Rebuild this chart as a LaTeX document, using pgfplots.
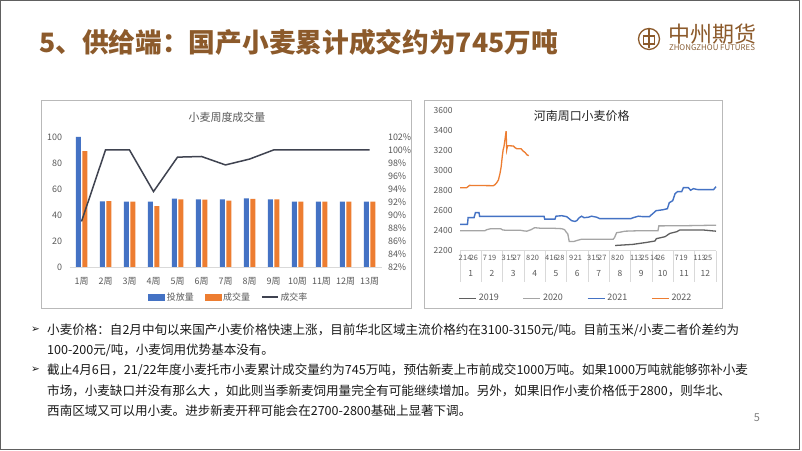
\documentclass[border=0pt]{standalone}
\usepackage{fontspec}
\setmainfont{Noto Sans CJK SC}
\newfontfamily\dejavu{DejaVu Sans}
\usepackage{graphicx}
\usepackage{pgfplots}
\pgfplotsset{compat=1.18}
\pgfplotsset{/pgf/number format/assume math mode=true, /pgf/number format/1000 sep={}}
\definecolor{cblue}{HTML}{4472C4}
\definecolor{corange}{HTML}{ED7D31}
\definecolor{cline}{HTML}{3F4350}
\definecolor{tickgray}{HTML}{595959}
\definecolor{titlebrown}{HTML}{8C5A2B}
\definecolor{g19}{HTML}{5F5F5F}
\definecolor{g20}{HTML}{A5A5A5}
\begin{document}
\begin{tikzpicture}[x=1bp,y=1bp]
\useasboundingbox (0,0) rectangle (802,451);
\fill[white] (0,0) rectangle (802,451);
\draw[gray!75!black, line width=1.2bp] (0.6,1.6) rectangle (799.2,450.4);
% title
\node[anchor=west, inner sep=0, text=titlebrown, font=\fontsize{26.8}{26.8}\selectfont\bfseries] at (39,409) {5、供给端：国产小麦累计成交约为745万吨};
% logo
\draw[titlebrown, line width=1.3bp] (649,412) circle (10.5);
\draw[titlebrown, line width=1.2bp] (649,402.5) -- (649,421.5);
\draw[titlebrown, line width=1.1bp] (643.5,407) rectangle (654.5,415);
\node[inner sep=0, text=titlebrown] at (712,417) {\resizebox{88bp}{!}{中州期货}};
\node[inner sep=0, text=titlebrown!85!gray] at (712,403) {\resizebox{86bp}{!}{ZHONGZHOU FUTURES}};
% chart frames
\draw[gray!55, line width=0.8bp] (41.7,143) rectangle (411,351);
\draw[gray!55, line width=0.8bp] (424,143) rectangle (722.7,351);
% left chart
\node[text=tickgray, font=\fontsize{11}{11}\selectfont] at (227,334) {小麦周度成交量};
\begin{axis}[at={(69.5bp,184bp)}, anchor=south west, scale only axis, width=312bp, height=130bp,
  xmin=0.5, xmax=13.5, ymin=0, ymax=100, ytick={0,20,...,100},
  xtick={1,...,13}, xticklabels={1周,2周,3周,4周,5周,6周,7周,8周,9周,10周,11周,12周,13周},
  ybar=1.5bp, bar width=5bp,
  axis x line*=bottom, axis y line*=left,
  y axis line style={draw=none}, x axis line style={draw=gray!30, line width=0.8bp, -},
  tick style={draw=none},
  ticklabel style={text=tickgray, font=\fontsize{9}{9}\selectfont},
  yticklabel style={xshift=-4bp}, xticklabel style={yshift=-3bp},
  clip=false]
\addplot[fill=cblue, draw=none] coordinates {(1,100) (2,50.5) (3,50.3) (4,50.3) (5,52.6) (6,52) (7,52) (8,52.8) (9,52) (10,50.3) (11,50.3) (12,50.3) (13,50.3)};
\addplot[fill=corange, draw=none] coordinates {(1,89.2) (2,50.6) (3,50.3) (4,46.9) (5,52) (6,51.8) (7,51) (8,52.3) (9,52) (10,50.3) (11,50.3) (12,50.3) (13,50.3)};
\end{axis}
\begin{axis}[at={(69.5bp,184bp)}, anchor=south west, scale only axis, width=312bp, height=130bp,
  xmin=0.5, xmax=13.5, ymin=82, ymax=102, ytick={82,84,...,102},
  yticklabel={\pgfmathprintnumber{\tick}\%},
  axis y line*=right, axis x line=none, y axis line style={draw=none},
  tick style={draw=none},
  ticklabel style={text=tickgray, font=\fontsize{9}{9}\selectfont},
  yticklabel style={xshift=3bp},
  legend style={at={(0.511,-0.231)}, anchor=center, draw=none, fill=none, legend columns=3,
    font=\fontsize{9}{9}\selectfont, text=tickgray,
    /tikz/every even column/.append style={column sep=9bp}},
  legend cell align=left,
  clip=false]
\addlegendimage{legend image code/.code={\fill[cblue] (0bp,-3bp) rectangle (16bp,3bp);}}
\addlegendentry{投放量}
\addlegendimage{legend image code/.code={\fill[corange] (0bp,-3bp) rectangle (16bp,3bp);}}
\addlegendentry{成交量}
\addplot[cline, line width=1.5bp, mark=none, legend image code/.code={\draw[cline, line width=1.5bp] (0bp,0bp) -- (16bp,0bp);}] coordinates {(1,89.0) (2,100) (3,100) (4,93.6) (5,98.9) (6,99.0) (7,97.7) (8,98.6) (9,100) (10,100) (11,100) (12,100) (13,100)};
\addlegendentry{成交率}
\end{axis}
% right chart
\node[text=black!85, font=\fontsize{12}{12}\selectfont] at (581.7,335.3) {河南周口小麦价格};
\begin{axis}[at={(460bp,200.3bp)}, anchor=south west, scale only axis, width=256bp, height=140bp,
  xmin=0, xmax=12, ymin=2200, ymax=3600, ytick={2200,2400,...,3600},
  axis x line*=bottom, axis y line*=left,
  y axis line style={draw=none}, x axis line style={draw=gray!30, line width=0.8bp, -},
  xtick={0.03,0.34,0.65,1.17,1.51,2.05,2.36,2.67,3.19,3.51,4.08,4.39,4.70,5.21,5.53,6.05,6.36,6.67,7.18,7.49,8.07,8.35,8.66,9.1,9.42,10.16,10.48,11.05,11.33,11.63},
  xticklabels={2,14,26,7,19,3,15,27,8,20,4,16,28,9,21,3,15,27,8,20,1,13,25,14,26,7,19,1,13,25},
  extra x ticks={0.5,1.5,...,11.5},
  extra x tick labels={1,2,3,4,5,6,7,8,9,10,11,12},
  extra x tick style={major tick length=0pt, xticklabel style={yshift=-15bp, font=\fontsize{8.5}{8.5}\selectfont}},
  minor xtick={0,1,...,12}, minor tick length=31bp, major tick length=0pt, tick align=outside,
  major tick style={draw=none}, minor tick style={draw=gray!30, line width=0.7bp},
  ytick style={draw=none},
  ticklabel style={text=tickgray, font=\fontsize{8.5}{8.5}\selectfont},
  yticklabel style={xshift=-4bp}, xticklabel style={yshift=-1bp, font=\fontsize{7.4}{7.4}\selectfont},
  legend style={at={(0.453,-0.34)}, anchor=center, draw=none, fill=none, legend columns=4,
    font=\fontsize{9}{9}\selectfont, text=tickgray,
    /tikz/every even column/.append style={column sep=22bp}},
  legend image code/.code={\draw[#1] (0bp,0bp) -- (17bp,0bp);},
  clip=false]
\addplot[g19, line width=1.3bp] coordinates {(7.27,2252) (8.1,2263) (8.75,2283) (9.14,2297) (9.2,2320) (9.61,2340) (9.84,2373) (10.16,2390) (10.3,2407) (11.4,2407) (12,2395)};
\addlegendentry{2019}
\addplot[g20, line width=1.3bp] coordinates {(0,2400) (1.17,2400) (1.25,2410) (1.44,2420) (1.9,2420) (2.0,2408) (2.1,2405) (2.81,2405) (3.0,2398) (3.13,2395) (3.33,2410) (3.5,2430) (3.75,2425) (4.3,2425) (4.77,2420) (4.9,2410) (5.0,2380) (5.05,2370) (5.12,2292) (5.34,2292) (5.45,2300) (5.7,2315) (7.18,2315) (7.24,2330) (7.34,2380) (7.5,2385) (7.73,2395) (8.44,2400) (9.28,2400) (9.32,2448) (10.63,2450) (12,2455)};
\addlegendentry{2020}
\addplot[cblue, line width=1.4bp] coordinates {(0,2463) (0.35,2463) (0.38,2530) (0.66,2530) (0.72,2580) (0.89,2580) (0.92,2543) (3.94,2543) (3.97,2515) (4.45,2515) (4.5,2545) (4.77,2550) (5.0,2540) (5.12,2520) (5.23,2500) (5.39,2493) (5.47,2500) (5.59,2530) (5.7,2545) (5.81,2530) (6.02,2535) (6.17,2545) (6.4,2535) (6.56,2520) (8.0,2520) (8.12,2530) (8.36,2545) (8.59,2540) (8.88,2540) (8.95,2555) (9.06,2575) (9.19,2600) (9.53,2610) (9.72,2620) (9.81,2680) (9.97,2700) (10.08,2770) (10.19,2790) (10.39,2790) (10.47,2830) (10.7,2830) (10.81,2805) (10.94,2820) (11.17,2810) (11.88,2810) (12,2840)};
\addlegendentry{2021}
\addplot[corange, line width=1.3bp] coordinates {(0,2830) (0.31,2830) (0.45,2853) (1.56,2850) (1.64,2860) (1.72,2880) (1.80,2907) (1.875,2973) (1.93,3040) (1.98,3140) (2.02,3207) (2.06,3240) (2.12,3330) (2.16,3395) (2.19,3210) (2.23,3250) (2.50,3247) (2.58,3230) (2.66,3220) (2.86,3220) (2.94,3200) (3.06,3180) (3.13,3160) (3.22,3150)};
\addlegendentry{2022}
\end{axis}
% bullets and text
\begin{scope}[every node/.style={anchor=west, inner sep=0, text=black!90, font=\fontsize{12.6}{12.6}\selectfont}]
\node[font=\dejavu\fontsize{10.5}{10.5}\selectfont] at (31,121) {➢};
\node at (47,121) {小麦价格：自2月中旬以来国产小麦价格快速上涨，目前华北区域主流价格约在3100-3150元/吨。目前玉米/小麦二者价差约为};
\node at (47,101) {100-200元/吨，小麦饲用优势基本没有。};
\node[font=\dejavu\fontsize{10.5}{10.5}\selectfont] at (31,81) {➢};
\node at (47,81) {截止4月6日，21/22年度小麦托市小麦累计成交量约为745万吨，预估新麦上市前成交1000万吨。如果1000万吨就能够弥补小麦};
\node at (47,60) {市场，小麦缺口并没有那么大 ，如此则当季新麦饲用量完全有可能继续增加。另外，如果旧作小麦价格低于2800，则华北、};
\node at (47,40) {西南区域又可以用小麦。进步新麦开秤可能会在2700-2800基础上显著下调。};
\end{scope}
\node[text=gray, font=\fontsize{11}{11}\selectfont] at (757,33) {5};
\end{tikzpicture}
\end{document}
